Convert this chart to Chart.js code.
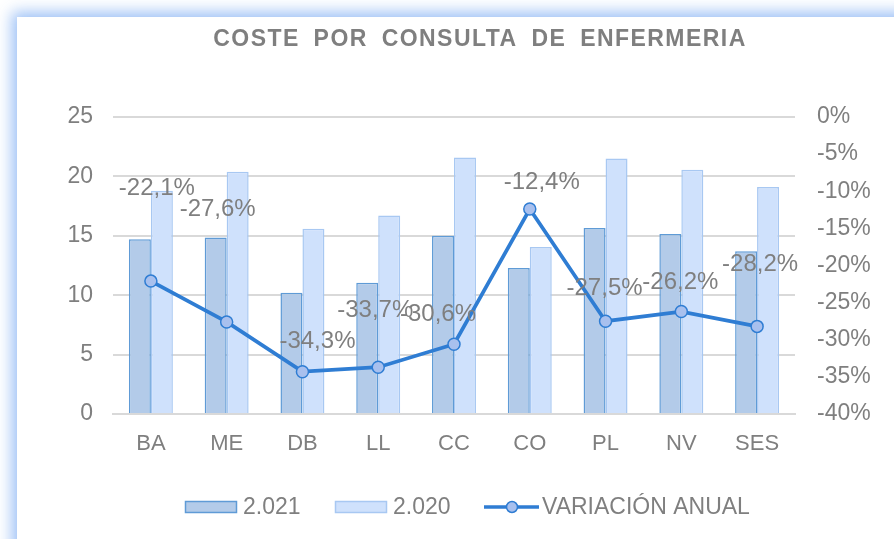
<!DOCTYPE html>
<html>
<head>
<meta charset="utf-8">
<script src="https://cdn.jsdelivr.net/npm/chart.js@4/dist/chart.umd.min.js"></script>
<style>
  html, body { margin: 0; padding: 0; background: #ffffff; width: 894px; height: 539px; overflow: hidden; }
  #frame { position: absolute; left: 17px; top: 17px; width: 900px; height: 560px; background: #ffffff;
           box-shadow: 0 0 14px 5px rgba(140, 182, 245, 0.85); }
  #wrap { position: absolute; left: 0; top: 0; width: 894px; height: 539px; }
</style>
</head>
<body>
<div id="frame"></div>
<div id="wrap"><canvas id="c" width="894" height="539"></canvas></div>
<script>
const chartTitle = 'COSTE POR CONSULTA DE ENFERMERIA';
const categories = ['BA', 'ME', 'DB', 'LL', 'CC', 'CO', 'PL', 'NV', 'SES'];
const seriesNames = ['2.021', '2.020', 'VARIACIÓN ANUAL'];
const cost2021 = [14.7, 14.85, 10.2, 11.05, 15.0, 12.3, 15.65, 15.15, 13.7];
const cost2020 = [18.8, 20.4, 15.6, 16.7, 21.6, 14.05, 21.5, 20.55, 19.1];
const variation = [-22.1, -27.6, -34.3, -33.7, -30.6, -12.4, -27.5, -26.2, -28.2];
const leftTicks = [0, 5, 10, 15, 20, 25];
const rightTicks = [0, -5, -10, -15, -20, -25, -30, -35, -40];

// label placement offsets (pixels, relative to the point) – style only
const labelOffsets = [[6, -93], [-9, -113], [15, -30], [-3, -57], [-16, -30], [12, -27], [-1, -33], [-1, -29], [3, -62]];

const FONT = "'Liberation Sans', Arial, sans-serif";
const GRAY = '#7f7f7f';
const C21_FILL = '#b3cbe9', C21_BORDER = '#5f9bd6';
const C20_FILL = '#cfe1fc', C20_BORDER = '#a8c8f2';
const LINE = '#2f7dd3', MARK_FILL = '#a8c0ee';

const fmtPct = v => v.toFixed(1).replace('.', ',') + '%';

const decorPlugin = {
  id: 'decor',
  afterDatasetsDraw(chart) {
    const ctx = chart.ctx;
    const meta = chart.getDatasetMeta(2);
    ctx.save();
    ctx.font = '24px ' + FONT;
    ctx.fillStyle = GRAY;
    ctx.textAlign = 'center';
    ctx.textBaseline = 'middle';
    meta.data.forEach((pt, i) => {
      const off = labelOffsets[i];
      ctx.fillText(fmtPct(variation[i]), pt.x + off[0], pt.y + off[1]);
    });
    ctx.restore();
  },
  afterDraw(chart) {
    const ctx = chart.ctx;
    ctx.save();
    // title
    ctx.font = 'bold 23px ' + FONT;
    ctx.fillStyle = GRAY;
    ctx.textAlign = 'center';
    ctx.textBaseline = 'alphabetic';
    try { ctx.letterSpacing = '1.45px'; ctx.wordSpacing = '6px'; } catch (e) {}
    ctx.fillText(chartTitle, 480, 46);
    try { ctx.letterSpacing = '0px'; ctx.wordSpacing = '0px'; } catch (e) {}

    // legend
    const ly = 507;
    ctx.font = '23px ' + FONT;
    ctx.textAlign = 'left';
    ctx.textBaseline = 'middle';
    ctx.lineWidth = 1.5;
    ctx.fillStyle = C21_FILL; ctx.strokeStyle = C21_BORDER;
    ctx.fillRect(185.5, 501.5, 51, 11); ctx.strokeRect(185.5, 501.5, 51, 11);
    ctx.fillStyle = GRAY; ctx.fillText(seriesNames[0], 243, ly + 1);
    ctx.fillStyle = C20_FILL; ctx.strokeStyle = C20_BORDER;
    ctx.fillRect(335.5, 501.5, 51, 11); ctx.strokeRect(335.5, 501.5, 51, 11);
    ctx.fillStyle = GRAY; ctx.fillText(seriesNames[1], 393, ly + 1);
    ctx.strokeStyle = LINE; ctx.lineWidth = 3.5;
    ctx.beginPath(); ctx.moveTo(484, ly); ctx.lineTo(539, ly); ctx.stroke();
    ctx.beginPath(); ctx.arc(512, ly, 5.5, 0, Math.PI * 2);
    ctx.fillStyle = MARK_FILL; ctx.fill();
    ctx.lineWidth = 1.5; ctx.stroke();
    ctx.fillStyle = GRAY; ctx.fillText(seriesNames[2], 542, ly + 1);
    ctx.restore();
  }
};

new Chart(document.getElementById('c'), {
  data: {
    labels: categories,
    datasets: [
      { type: 'bar', label: seriesNames[0], data: cost2021, yAxisID: 'y',
        backgroundColor: C21_FILL, borderColor: C21_BORDER, borderWidth: 1.5, order: 2,
        categoryPercentage: 0.58, barPercentage: 1.0 },
      { type: 'bar', label: seriesNames[1], data: cost2020, yAxisID: 'y',
        backgroundColor: C20_FILL, borderColor: C20_BORDER, borderWidth: 1.5, order: 2,
        categoryPercentage: 0.58, barPercentage: 1.0 },
      { type: 'line', label: seriesNames[2], data: variation, yAxisID: 'y1',
        borderColor: LINE, borderWidth: 3.75, backgroundColor: MARK_FILL,
        pointRadius: 6, pointBorderWidth: 1.5, pointBorderColor: LINE, pointBackgroundColor: MARK_FILL,
        tension: 0, order: 0 }
    ]
  },
  options: {
    responsive: false,
    animation: false,
    events: [],
    layout: { padding: { top: 117, bottom: 65, left: 0, right: 0 } },
    plugins: { legend: { display: false }, title: { display: false }, tooltip: { enabled: false } },
    scales: {
      x: {
        grid: { display: false, drawTicks: false },
        border: { display: true, color: '#d9d9d9', width: 2 },
        ticks: { color: GRAY, font: { family: FONT, size: 22 }, padding: 17, maxRotation: 0 },
        afterFit(s) { s.height = 60; }
      },
      y: {
        position: 'left', min: 0, max: 25,
        afterBuildTicks(s) { s.ticks = leftTicks.map(v => ({ value: v })); },
        grid: { color: '#d9d9d9', lineWidth: 2, drawTicks: false },
        border: { display: false },
        ticks: { color: GRAY, font: { family: FONT, size: 23 }, padding: 20 },
        afterFit(s) { s.width = 113; }
      },
      y1: {
        position: 'right', min: -40, max: 0,
        afterBuildTicks(s) { s.ticks = rightTicks.map(v => ({ value: v })); },
        grid: { drawOnChartArea: false, drawTicks: false },
        border: { display: false },
        ticks: { color: GRAY, font: { family: FONT, size: 23 }, padding: 22, callback: v => v + '%' },
        afterFit(s) { s.width = 99; }
      }
    }
  },
  plugins: [decorPlugin]
});
</script>
</body>
</html>
